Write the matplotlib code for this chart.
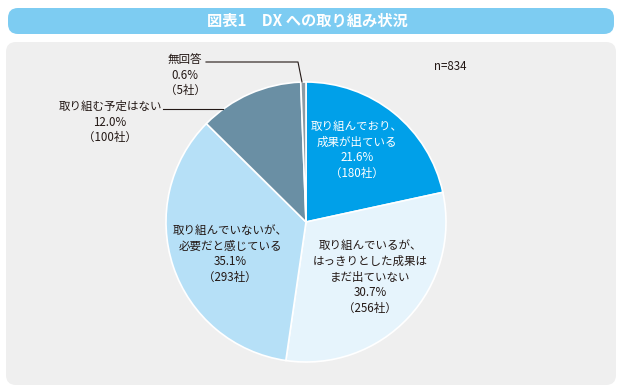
import matplotlib
matplotlib.use("Agg")
import matplotlib.pyplot as plt
from matplotlib.patches import FancyBboxPatch

plt.rcParams["font.family"] = ["Noto Sans CJK JP", "DejaVu Sans"]

title = "図表1　DX への取り組み状況"
labels = [
    "取り組んでおり、\n成果が出ている",
    "取り組んでいるが、\nはっきりとした成果は\nまだ出ていない",
    "取り組んでいないが、\n必要だと感じている",
    "取り組む予定はない",
    "無回答",
]
percents = [21.6, 30.7, 35.1, 12.0, 0.6]
counts = [180, 256, 293, 100, 5]
colors = ["#00a0e9", "#e6f4fc", "#b6e0f7", "#6a8fa4", "#8c9ba5"]
n_total = 834

W, H = 622, 392
fig = plt.figure(figsize=(W / 100, H / 100), dpi=100)
ax = fig.add_axes([0, 0, 1, 1])


def py(y):
    # pixel y from top -> data y
    return H - y


# title banner and grey panel
ax.add_patch(FancyBboxPatch((8, py(34)), 606, 26, boxstyle="round,pad=0,rounding_size=10",
                            fc="#7dccf2", ec="none"))
ax.text(307, py(21), title, ha="center", va="center", color="white", fontsize=11,
        fontweight="bold")
ax.add_patch(FancyBboxPatch((6, py(385)), 610, 343, boxstyle="round,pad=0,rounding_size=10",
                            fc="#efefef", ec="none"))

cx, cy, r = 306, py(222), 140
ax.pie(percents, colors=colors, startangle=90, counterclock=False,
       center=(cx, cy), radius=r, frame=True,
       wedgeprops=dict(edgecolor="white", linewidth=1.2))

fs = 8.3
txt = "#231815"


def label(i):
    return f"{labels[i]}\n{percents[i]:.1f}%\n（{counts[i]}社）"


ax.text(357, py(150), label(0), ha="center", va="center", color="white", fontsize=fs,
        linespacing=1.25)
ax.text(370, py(277), label(1), ha="center", va="center", color=txt, fontsize=fs,
        linespacing=1.25)
ax.text(230, py(254), label(2), ha="center", va="center", color=txt, fontsize=fs,
        linespacing=1.25)
ax.text(110, py(122), label(3), ha="center", va="center", color=txt, fontsize=fs,
        linespacing=1.25)
ax.text(185, py(75), label(4), ha="center", va="center", color=txt, fontsize=fs,
        linespacing=1.25)
ax.text(450, py(66), f"n={n_total}", ha="center", va="center", color=txt, fontsize=fs)

# leader lines
ax.plot([206, 298, 302], [py(62), py(62), py(82)], color=txt, lw=0.8)
ax.plot([163, 223], [py(108.5), py(108.5)], color=txt, lw=0.8)

ax.set_xlim(0, W)
ax.set_ylim(0, H)
ax.set_aspect("auto")
ax.axis("off")
fig.patch.set_facecolor("white")
fig.savefig("out.png", dpi=100)
